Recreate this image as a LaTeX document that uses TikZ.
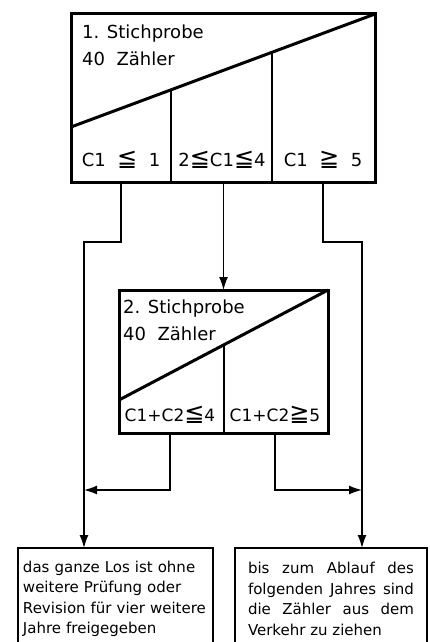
\documentclass[tikz,border=0pt]{standalone}
\usepackage{fontspec}
\setmainfont{DejaVu Sans}
\usepackage{tikz}
\usetikzlibrary{arrows.meta}
\usetikzlibrary{calc}

\newcommand{\kleinergleich}{{\fontsize{24}{24}\selectfont ≦}}
\newcommand{\groessergleich}{{\fontsize{24}{24}\selectfont ≧}}

\tikzset{
  probe/.style={draw=black, line width=3pt, rounded corners=0pt, inner sep=0pt, outer sep=0pt},
  ergebnis/.style={draw=black, line width=2.5pt, inner sep=0pt, outer sep=0pt, minimum height=102pt, font=\fontsize{15}{20.5}\selectfont},
  titel/.style={anchor=north west, align=left, inner sep=0pt, font=\fontsize{18}{27}\selectfont},
  fall/.style={anchor=base, inner sep=0pt, font=\fontsize{18}{18}\selectfont},
  teiler/.style={line width=2pt},
  schraeg/.style={line width=3pt},
  fluss/.style={line width=1.4pt, -{Latex[length=13pt,width=9pt]}},
}

\begin{document}
\begin{tikzpicture}[x=1pt, y=-1pt]
  \useasboundingbox (0,0) rectangle (430,642);
  \clip (0,0) rectangle (430,642);

  % 1. Stichprobe
  \node[probe, minimum width=304pt, minimum height=168pt] (st1) at (223,98) {};
  \coordinate (s1) at (71,127);
  \draw[schraeg] (s1) -- (st1.north east);
  \foreach \t in {0.329, 0.661}
    \draw[teiler] ($(s1)!\t!(st1.north east)$) -- ($(st1.south west)!\t!(st1.south east)$);
  \node[titel] (t1)  at ( 82, 25) {1. Stichprobe\\40\ \ Zähler};
  \node[fall]  (c11) at (121,166) {C1\ \ \kleinergleich\ \ 1};
  \node[fall]  (c12) at (222,166) {2\kleinergleich C1\kleinergleich 4};
  \node[fall]  (c13) at (323,166) {C1\ \ \groessergleich\ \ 5};

  % 2. Stichprobe
  \node[probe, minimum width=209pt, minimum height=143pt] (st2) at (223.5,361.5) {};
  \coordinate (s2) at (119,400);
  \draw[schraeg] (s2) -- (st2.north east);
  \draw[teiler] ($(s2)!0.5!(st2.north east)$) -- (st2.south);
  \node[titel] (t2)  at (123,300) {2. Stichprobe\\40\ \ Zähler};
  \node[fall, font=\fontsize{17}{17}\selectfont] (c21) at (170,421) {C1+C2\kleinergleich 4};
  \node[fall, font=\fontsize{17}{17}\selectfont] (c22) at (275,421) {C1+C2\groessergleich 5};

  % Entscheide
  \node[ergebnis, minimum width=195pt, text width=185pt, align=left] (los) at (115.5,599)
    {das ganze Los ist ohne\\weitere Prüfung oder\\Revision für vier weitere\\Jahre freigegeben};
  \node[ergebnis, minimum width=192pt, text width=166pt, align=justify] (ziehen) at (331,599)
    {bis zum Ablauf des\linebreak folgenden Jahres sind\linebreak die Zähler aus dem\linebreak Verkehr zu ziehen};

  \coordinate (kl) at ( 84,242);
  \coordinate (kr) at (362,242);
  \coordinate (ml) at ( 84,490);
  \coordinate (mr) at (362,490);

  \draw[fluss] (c11 |- st1.south) |- (kl) -- (kl |- los.north);
  \draw[fluss] (st2.north |- st1.south) -- (st2.north);
  \draw[fluss] (c13 |- st1.south) |- (kr) -- (kr |- ziehen.north);
  \draw[fluss] (c21 |- st2.south) |- (ml);
  \draw[fluss] (c22 |- st2.south) |- (mr);
\end{tikzpicture}
\end{document}
